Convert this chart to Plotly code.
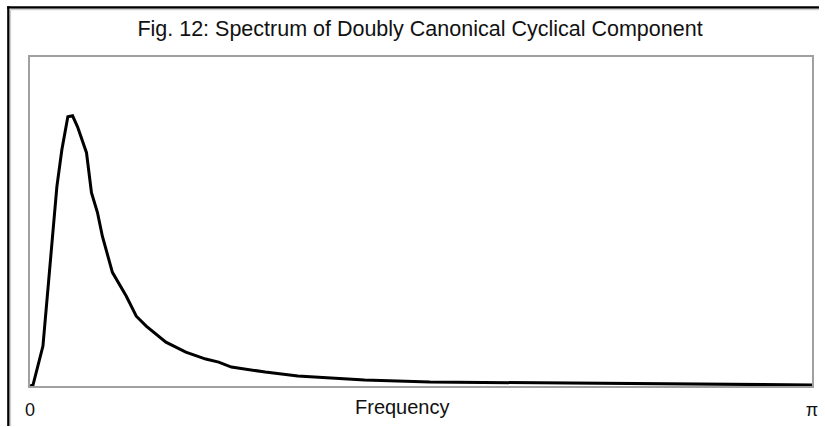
import math
import plotly.graph_objects as go

# Data
frequency = [0.0, 0.012, 0.052, 0.080, 0.108, 0.128, 0.152, 0.171, 0.191, 0.227, 0.247,
             0.271, 0.291, 0.331, 0.387, 0.427, 0.467, 0.546, 0.626, 0.706, 0.758,
             0.809, 0.945, 1.076, 1.208, 1.344, 1.607, 2.125, math.pi]
spectrum = [0, 1, 40, 124, 200, 237, 270, 271, 260, 234, 194,
            174, 150, 114, 90, 70, 60, 44, 34, 27, 24,
            19, 14, 10, 8, 6, 4, 3, 1]
tick_vals = [0, math.pi]
tick_text = ["0", "π"]
x_title = "Frequency"
chart_title = "Fig. 12: Spectrum of Doubly Canonical Cyclical Component"

W, H = 825, 427
L, R, T, B = 30, 7, 57, 40
pw, ph = W - L - R, H - T - B

fig = go.Figure()
fig.add_trace(go.Scatter(x=frequency, y=spectrum, mode="lines",
                         line=dict(color="black", width=3), hoverinfo="skip"))

def px_to_paper_x(px):
    return (px - L) / pw

def py_to_paper_y(py):
    return (H - B - py) / ph

shapes = [
    # outer frame (black, with a light grey inner shadow)
    dict(type="rect", xref="paper", yref="paper", layer="above",
         x0=px_to_paper_x(7), x1=px_to_paper_x(9.5), y0=py_to_paper_y(427), y1=py_to_paper_y(6),
         fillcolor="black", line=dict(width=0)),
    dict(type="rect", xref="paper", yref="paper", layer="above",
         x0=px_to_paper_x(7), x1=px_to_paper_x(825), y0=py_to_paper_y(8.5), y1=py_to_paper_y(6),
         fillcolor="black", line=dict(width=0)),
    dict(type="rect", xref="paper", yref="paper", layer="above",
         x0=px_to_paper_x(9.5), x1=px_to_paper_x(11), y0=py_to_paper_y(427), y1=py_to_paper_y(8.5),
         fillcolor="#cfcfcf", line=dict(width=0)),
    dict(type="rect", xref="paper", yref="paper", layer="above",
         x0=px_to_paper_x(9.5), x1=px_to_paper_x(825), y0=py_to_paper_y(10), y1=py_to_paper_y(8.5),
         fillcolor="#cfcfcf", line=dict(width=0)),
]

fig.update_layout(
    width=W, height=H,
    margin=dict(l=L, r=R, t=T, b=B),
    paper_bgcolor="white", plot_bgcolor="white",
    showlegend=False,
    font=dict(family="Liberation Sans, Arial, sans-serif", color="black", size=18),
    title=dict(text=chart_title,
               x=420 / W, xanchor="center", y=1 - 28 / H, yanchor="middle",
               font=dict(size=21.5, color="#111111")),
    shapes=shapes,
    annotations=[dict(text=x_title, xref="paper", yref="paper",
                      x=px_to_paper_x(405), y=py_to_paper_y(408),
                      xanchor="center", yanchor="middle", showarrow=False,
                      font=dict(size=20, color="#111111"))],
)
fig.update_xaxes(range=[0, math.pi], tickvals=tick_vals, ticktext=tick_text,
                 showgrid=False, zeroline=False, ticks="",
                 showline=True, mirror=True, linecolor="#a0a0a0", linewidth=2,
                 tickfont=dict(size=18, color="#111111"), ticklabelstandoff=6)
fig.update_yaxes(range=[0, 330], showticklabels=False, showgrid=False, zeroline=False,
                 ticks="", showline=True, mirror=True, linecolor="#a0a0a0", linewidth=2)

fig.write_html("out.html", config={"displayModeBar": False},
               post_script="document.body.style.margin='0';document.body.style.overflow='hidden';")
